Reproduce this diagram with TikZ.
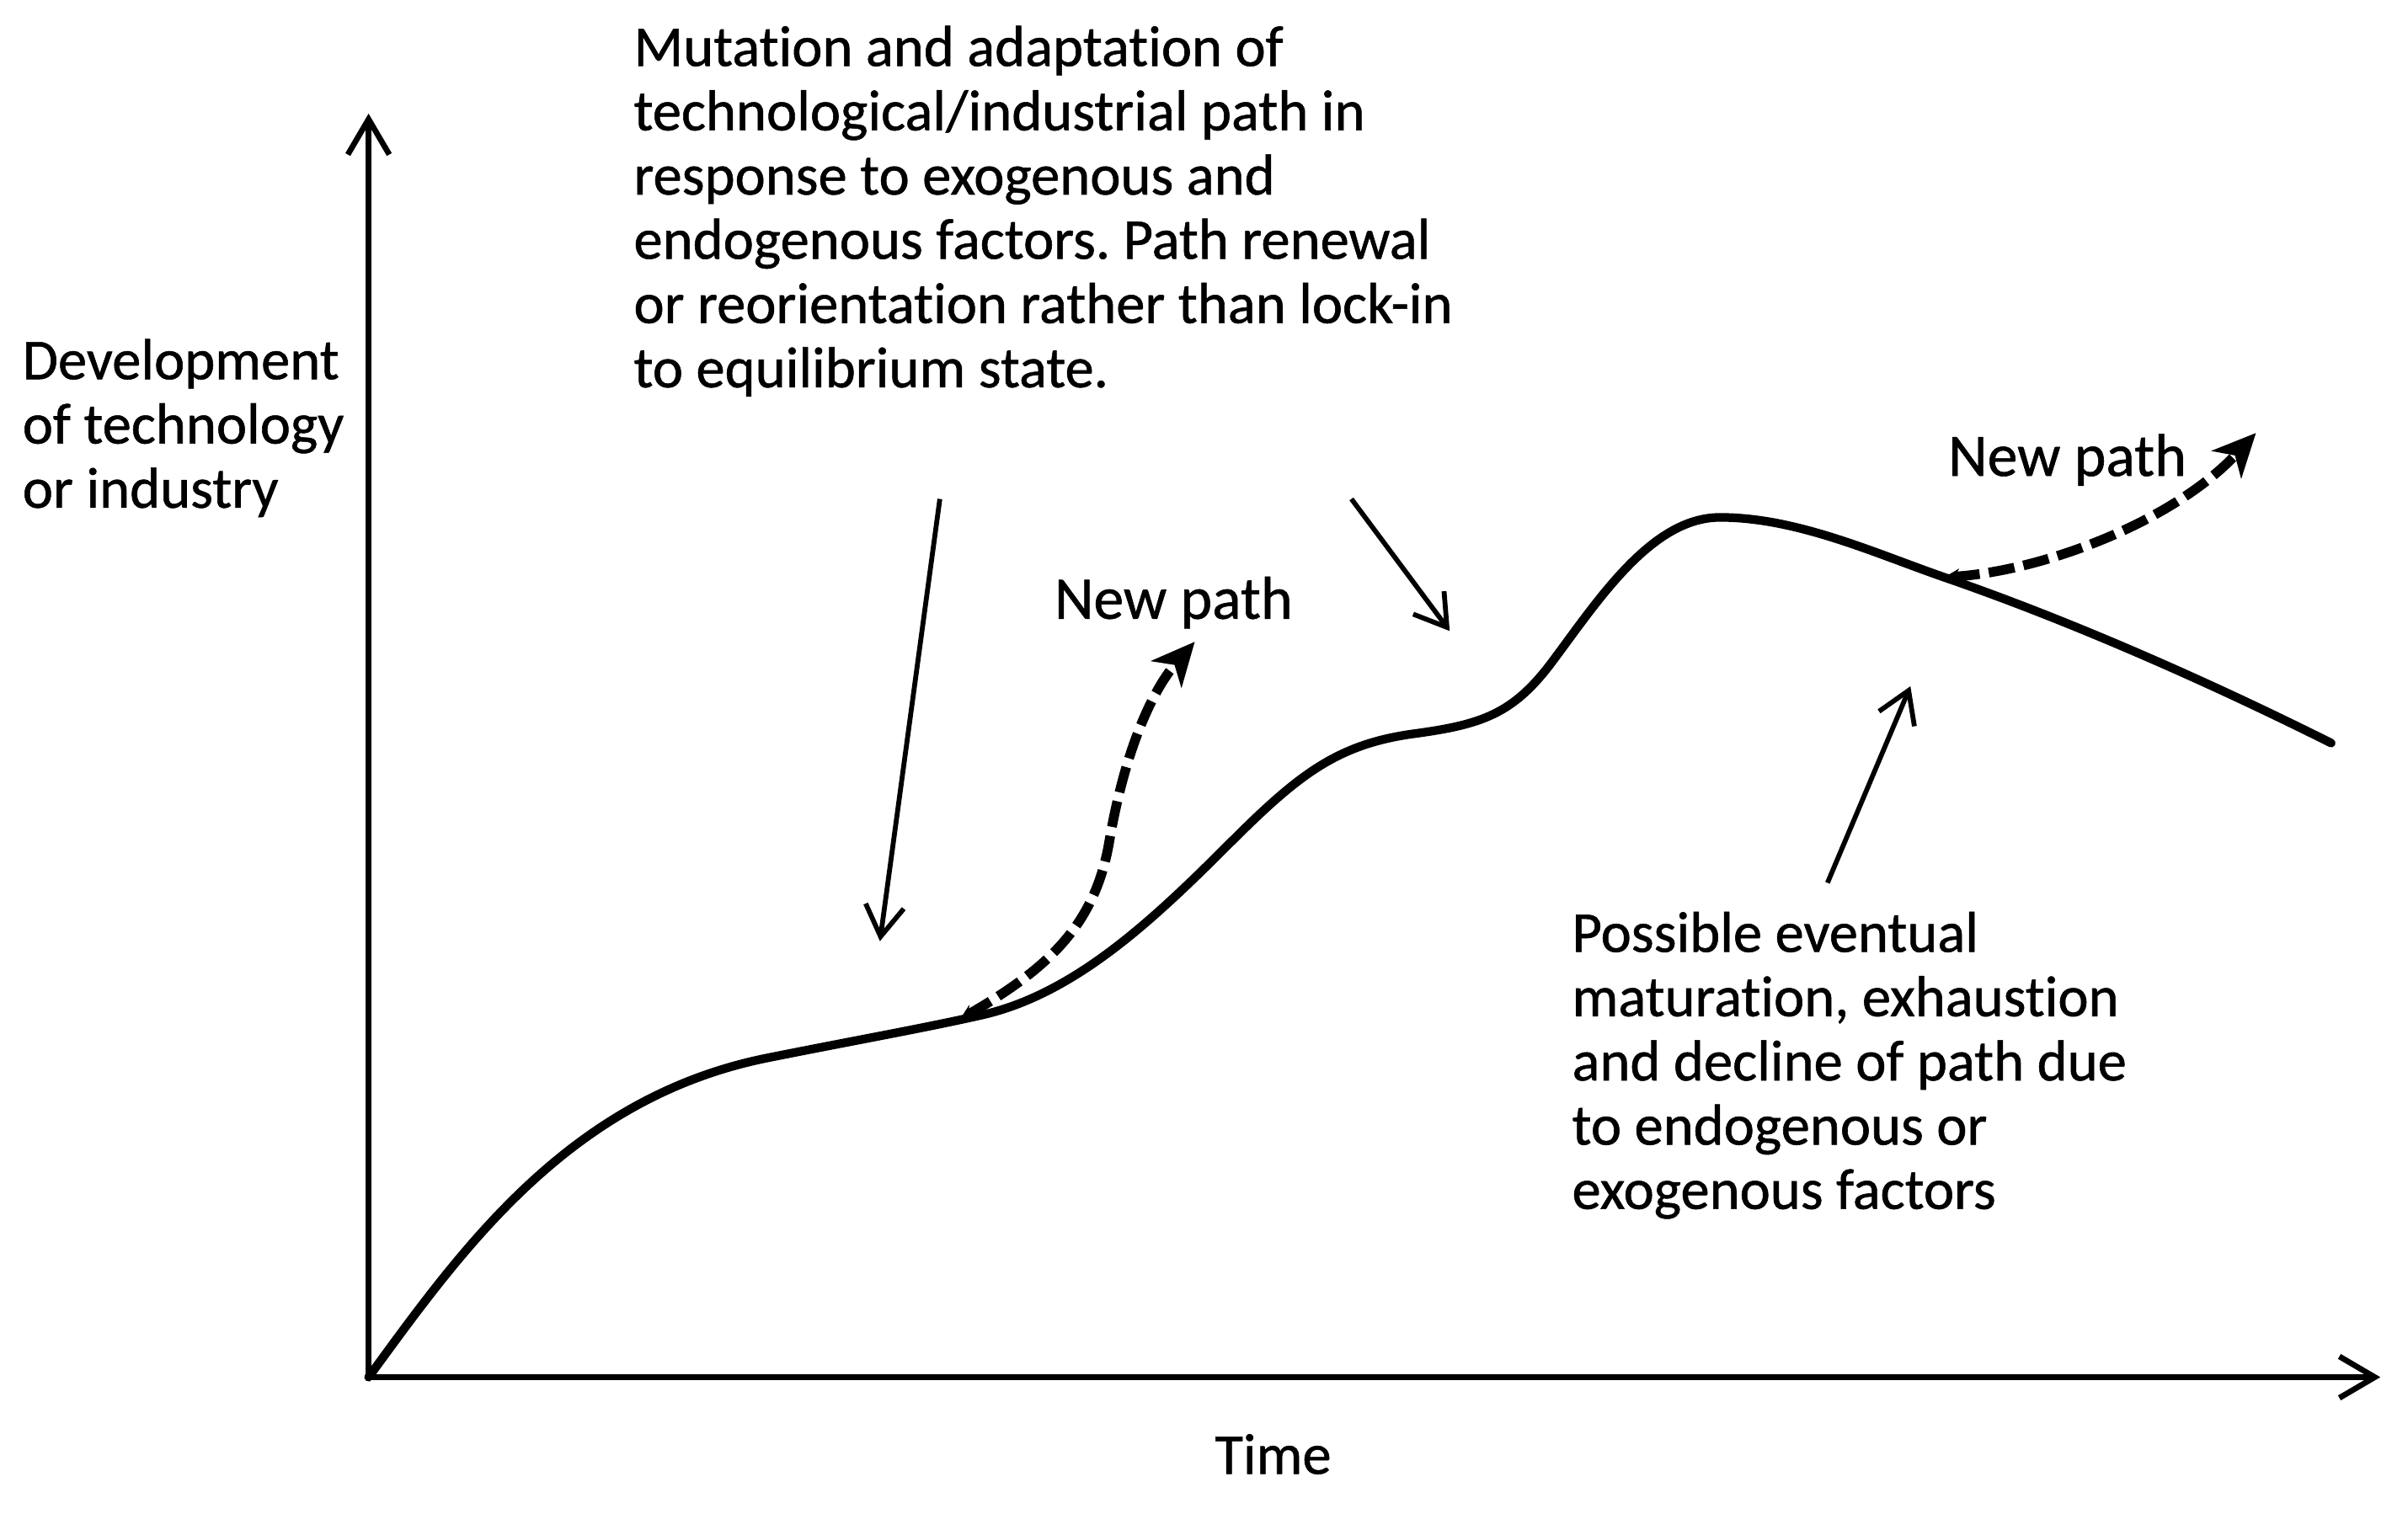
\documentclass[tikz,border=0pt]{standalone}
\usepackage{fontspec}
\setmainfont{Carlito}[Ligatures=NoCommon, FakeBold=0.8]
\usetikzlibrary{arrows.meta}
\frenchspacing
\begin{document}
\begin{tikzpicture}[x=0.01cm,y=-0.01cm,
  axis/.style={line width=1.05pt, -{Straight Barb[length=0.23cm,width=0.27cm]}},
  pointer/.style={line width=0.9pt, -{Straight Barb[length=0.2cm,width=0.25cm]}},
  mainpath/.style={line width=1.6pt, line cap=round},
  newpathline/.style={line width=1.8pt, dash pattern=on 0.17cm off 0.06cm,
    {Stealth[length=0.1cm,width=0.1cm]}-{Stealth[length=0.28cm,width=0.26cm,inset=0.08cm]}},
  lbl/.style={inner sep=0pt, anchor=base west, font=\fontsize{10.7}{11.9}\selectfont},
  plbl/.style={inner sep=0pt, anchor=base west, font=\fontsize{11.2}{12}\selectfont},
]
\useasboundingbox (0,0) rectangle (1568,986);

% axes
\coordinate (O) at (240,897);
\coordinate (ytop) at (240,74);
\coordinate (xend) at (1550,897);
\draw[axis] (O) -- (ytop);
\draw[axis] (O) -- (xend);

% main development curve
\coordinate (b1) at (640,661);
\coordinate (b2) at (1266,376);
\draw[mainpath] (O) .. controls (300,815) and (370,715) .. (500,689)
  .. controls (560,677) and (600,670) .. (b1)
  .. controls (700,647) and (750,600) .. (800,550)
  .. controls (845,505) and (870,485) .. (920,478)
  .. controls (965,472) and (985,465) .. (1010,432)
  .. controls (1040,392) and (1075,337) .. (1120,337)
  .. controls (1170,337) and (1220,360) .. (b2)
  .. controls (1350,405) and (1440,445) .. (1518,484);

% new paths
\coordinate (s1) at (625,664);
\coordinate (t1) at (778,418);
\coordinate (t2) at (1469,282);
\draw[newpathline] (s1) .. controls (680,632) and (712,605) .. (722,550)
   .. controls (732,490) and (750,450) .. (t1);
\draw[newpathline] (b2) .. controls (1330,372) and (1415,340) .. (t2);

% pointer arrows
\coordinate (a1s) at (612,325); \coordinate (a1e) at (573,613);
\coordinate (a2s) at (880,325); \coordinate (a2e) at (944,411);
\coordinate (a3s) at (1190,575); \coordinate (a3e) at (1244,447);
\draw[pointer] (a1s) -- (a1e);
\draw[pointer] (a2s) -- (a2e);
\draw[pointer] (a3s) -- (a3e);

% labels
\node[lbl] (ylab) at (14,247) {\parbox[t]{3cm}{\raggedright Development\\ of technology\\ or industry}};
\node[lbl] (mut) at (412,43) {\parbox[t]{7cm}{\raggedright Mutation and adaptation of\\ technological/industrial path in\\ response to exogenous and\\ endogenous factors. Path renewal\\ or reorientation rather than lock-in\\ to equilibrium state.}};
\node[plbl] (np1) at (686,403) {New path};
\node[plbl] (np2) at (1268,310) {New path};
\node[lbl] (decl) at (1023,620) {\parbox[t]{5cm}{\raggedright Possible eventual\\ maturation, exhaustion\\ and decline of path due\\ to endogenous or\\ exogenous factors}};
\node[lbl, anchor=base] (time) at (829,960) {Time};
\end{tikzpicture}
\end{document}
